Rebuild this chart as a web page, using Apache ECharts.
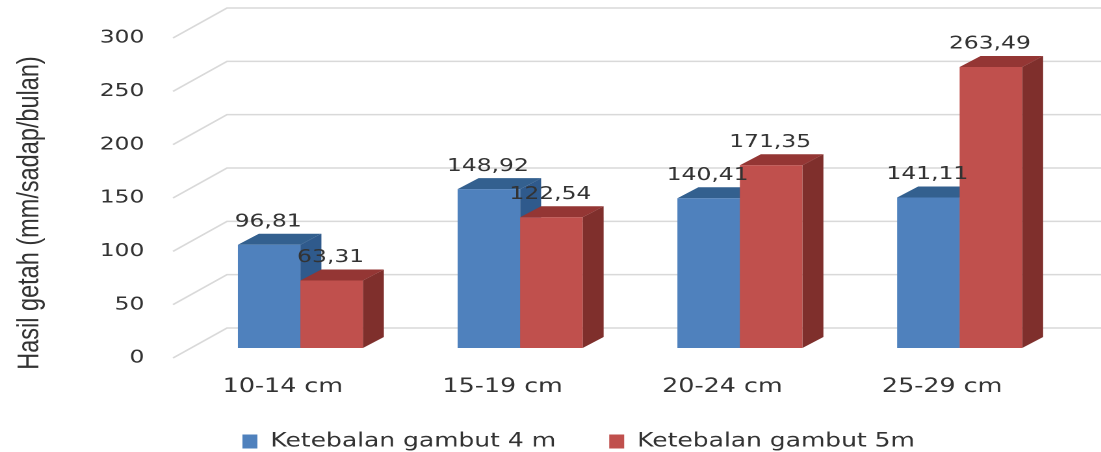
<!DOCTYPE html>
<html>
<head>
<meta charset="utf-8">
<title>Hasil getah</title>
<script src="https://cdn.jsdelivr.net/npm/echarts@6/dist/echarts.min.js"></script>
<style>
html, body { margin: 0; padding: 0; background: #fff; overflow: hidden; }
/* the source picture is stretched sideways, so the whole chart is too */
#main { height: 452px; transform-origin: 0 0; }
</style>
</head>
<body>
<div id="main"></div>
<script>
var categories = ['10-14 cm', '15-19 cm', '20-24 cm', '25-29 cm'];
var gambut4 = [96.81, 148.92, 140.41, 141.11];
var gambut5 = [63.31, 122.54, 171.35, 263.49];
var yTicks = [0, 50, 100, 150, 200, 250, 300];
var name4 = 'Ketebalan gambut 4 m';
var name5 = 'Ketebalan gambut 5m';

var stretch = 1.3;
var dom = document.getElementById('main');
dom.style.width = (1101 / stretch) + 'px';
dom.style.transform = 'scaleX(' + stretch + ')';

// 3D offsets, pixels in the unstretched chart
var barShift = [17.5 / stretch, -10];
var barDepth = [21 / stretch, -11];
var wallDepth = [54 / stretch, -30];
var barW = 62.5 / stretch;

function rows(values) {
    return values.map(function(v, i) {
        return [i, v];
    });
}

function poly(points, color, z2) {
    return {
        type: 'polygon',
        z2: z2,
        shape: { points: points },
        style: { fill: color }
    };
}

function barRenderer(side, front, topColor, sideColor) {
    // side: -1 left bar of the pair, 0 right bar
    return function(params, api) {
        var i = api.value(0);
        var top = api.coord([i, api.value(1)]);
        var base = api.coord([i, 0]);
        var x0 = top[0] + barShift[0] + side * barW;
        var x1 = x0 + barW;
        var y0 = top[1] + barShift[1];
        var y1 = base[1] + barShift[1];
        var dx = barDepth[0];
        var dy = barDepth[1];
        return {
            type: 'group',
            children: [
                poly([[x1, y0], [x1 + dx, y0 + dy], [x1 + dx, y1 + dy], [x1, y1]], sideColor, 1),
                poly([[x0, y0], [x0 + dx, y0 + dy], [x1 + dx, y0 + dy], [x1, y0]], topColor, 2),
                poly([[x0, y0], [x1, y0], [x1, y1], [x0, y1]], front, 3)
            ]
        };
    };
}

function labelRenderer(side) {
    return function(params, api) {
        var i = api.value(0);
        var v = api.value(1);
        var top = api.coord([i, v]);
        return {
            type: 'text',
            x: top[0] + barShift[0] + side * barW + barW / 2 - 1 / stretch,
            y: top[1] + barShift[1] - 23,
            style: {
                text: v.toFixed(2).replace('.', ','),
                fill: '#333',
                font: '18px "DejaVu Sans"',
                textAlign: 'center',
                textVerticalAlign: 'middle'
            }
        };
    };
}

function renderWall(params, api) {
    var p = api.coord([0, api.value(0)]);
    var left = params.coordSys.x;
    var right = left + params.coordSys.width + wallDepth[0];
    return {
        type: 'polyline',
        shape: {
            points: [[left, p[1]], [left + wallDepth[0], p[1] + wallDepth[1]], [right, p[1] + wallDepth[1]]]
        },
        style: { fill: null, stroke: '#d9d9d9', lineWidth: 1.5 }
    };
}

var chart = echarts.init(dom, null, { devicePixelRatio: 2 });
chart.setOption({
    animation: false,
    backgroundColor: '#fff',
    grid: {
        left: 173 / stretch,
        width: 879 / stretch,
        top: 38,
        height: 320
    },
    legend: {
        data: [name4, name5],
        left: 181.5,
        top: 427,
        icon: 'rect',
        itemWidth: 11.5,
        itemHeight: 14,
        itemGap: 41,
        selectedMode: false,
        textStyle: {
            color: '#333',
            fontFamily: 'DejaVu Sans',
            fontSize: 19.2,
            padding: [0, 0, 0, 5]
        }
    },
    xAxis: {
        type: 'category',
        data: categories,
        axisLine: { show: false },
        axisTick: { show: false },
        axisLabel: {
            color: '#333',
            fontFamily: 'DejaVu Sans',
            fontSize: 19.5,
            margin: 19
        }
    },
    yAxis: {
        type: 'value',
        min: yTicks[0],
        max: yTicks[yTicks.length - 1],
        interval: 50,
        name: 'Hasil getah (mm/sadap/bulan)',
        nameLocation: 'middle',
        nameGap: 98,
        nameTextStyle: {
            color: '#333',
            fontFamily: 'Liberation Sans',
            fontSize: 23.5,
            padding: [0, 30, 0, 0]
        },
        axisLine: { show: false },
        axisTick: { show: false },
        splitLine: { show: false },
        axisLabel: {
            color: '#333',
            fontFamily: 'DejaVu Sans',
            fontSize: 18,
            margin: 22,
            padding: [5, 0, 0, 0]
        }
    },
    series: [{
        type: 'custom',
        name: 'wall',
        z: 1,
        silent: true,
        clip: false,
        renderItem: renderWall,
        data: yTicks.map(function(v) { return [v]; }),
        encode: { y: 0 }
    }, {
        type: 'custom',
        name: name4,
        z: 2,
        clip: false,
        itemStyle: { color: '#4f81bd' },
        renderItem: barRenderer(-1, '#4f81bd', '#33608f', '#2f5a8c'),
        data: rows(gambut4),
        encode: { x: 0, y: 1 }
    }, {
        type: 'custom',
        name: name5,
        z: 3,
        clip: false,
        itemStyle: { color: '#c0504d' },
        renderItem: barRenderer(0, '#c0504d', '#943634', '#7f2f2c'),
        data: rows(gambut5),
        encode: { x: 0, y: 1 }
    }, {
        type: 'custom',
        name: 'label4',
        z: 5,
        silent: true,
        clip: false,
        renderItem: labelRenderer(-1),
        data: rows(gambut4),
        encode: { x: 0, y: 1 }
    }, {
        type: 'custom',
        name: 'label5',
        z: 5,
        silent: true,
        clip: false,
        renderItem: labelRenderer(0),
        data: rows(gambut5),
        encode: { x: 0, y: 1 }
    }]
});
</script>
</body>
</html>
